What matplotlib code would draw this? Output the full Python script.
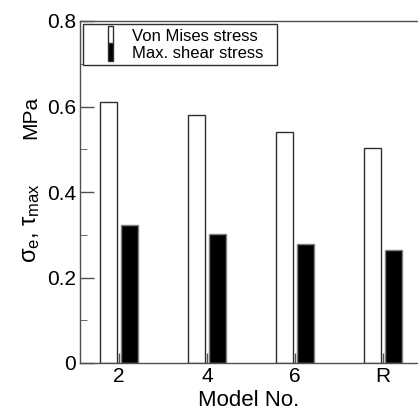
import numpy as np
import matplotlib.pyplot as plt
from matplotlib.patches import Patch, Rectangle
from matplotlib.legend_handler import HandlerBase

plt.rcParams['font.family'] = ['Liberation Sans', 'DejaVu Sans']
plt.rcParams['mathtext.fontset'] = 'custom'
plt.rcParams['mathtext.rm'] = 'Liberation Sans'
plt.rcParams['mathtext.it'] = 'Liberation Sans'

# data
models = ['2', '4', '6', 'R']
von_mises = [0.611, 0.581, 0.541, 0.502]
max_shear = [0.322, 0.301, 0.279, 0.264]

x = np.arange(len(models))
w = 0.193
off = 0.119


class NarrowBar(HandlerBase):
    # thin upright bar, like the legend key in the original figure
    def create_artists(self, legend, orig_handle, xdescent, ydescent,
                       width, height, fontsize, trans):
        bw, bh = 3.6, 12.6
        xc = 16.7
        r = Rectangle((xc - bw / 2 - xdescent, height / 2 - bh / 2 - ydescent), bw, bh,
                      facecolor=orig_handle.get_facecolor(),
                      edgecolor='#303030', linewidth=1.0, transform=trans)
        return [r]


fig = plt.figure(figsize=(4.18, 4.12), dpi=100)
ax = fig.add_axes([80 / 418, 49 / 412, 338 / 418, 342 / 412])

ax.bar(x - off, von_mises, w, color='white', edgecolor='#303030', linewidth=1.0)
ax.bar(x + off, max_shear, w, color='black', edgecolor='#808080', linewidth=1.0)

ax.set_xlim(-0.443, 3.398)
ax.set_ylim(0, 0.8)
ax.set_xticks(x)
ax.set_xticklabels(models)
ax.set_yticks([0, 0.2, 0.4, 0.6, 0.8])
ax.set_yticklabels(['0', '0.2', '0.4', '0.6', '0.8'])
ax.set_yticks([0.1, 0.3, 0.5, 0.7], minor=True)

ax.tick_params(axis='both', which='major', direction='in', labelsize=15,
               color='#505050', width=1.0, pad=3)
ax.tick_params(axis='y', which='major', length=10)
ax.tick_params(axis='y', which='minor', direction='in', length=5, color='#505050')
ax.tick_params(axis='x', which='major', length=7, top=False)

for s in ['left', 'bottom', 'top']:
    ax.spines[s].set_color('#505050')
    ax.spines[s].set_linewidth(1.0)
ax.spines['right'].set_visible(False)

ax.set_xlabel('Model No.', fontsize=16, labelpad=3)

# y label: greek part drawn a bit larger than the unit, as in the original
ax.text(-0.13, 0.41, r'$\sigma_{e}$, $\tau_{max}$', transform=ax.transAxes,
        fontsize=17, rotation=90, rotation_mode='anchor', ha='center', va='baseline')
ax.text(-0.13, 0.718, 'MPa', transform=ax.transAxes,
        fontsize=15, rotation=90, rotation_mode='anchor', ha='center', va='baseline')

handles = [Patch(facecolor='white'), Patch(facecolor='black')]
leg = ax.legend(handles, ['Von Mises stress', 'Max. shear stress'],
                loc='upper left', bbox_to_anchor=(0.009, 0.0, 0.574, 0.991),
                mode='expand', fontsize=12, frameon=True, fancybox=False,
                handlelength=2.6, handleheight=0.7, handletextpad=0.08,
                labelspacing=0.12, borderpad=0.28, borderaxespad=0,
                edgecolor='#303030', framealpha=1,
                handler_map={Patch: NarrowBar()})
leg.get_frame().set_linewidth(1.0)

fig.savefig('out.png', dpi=100)
